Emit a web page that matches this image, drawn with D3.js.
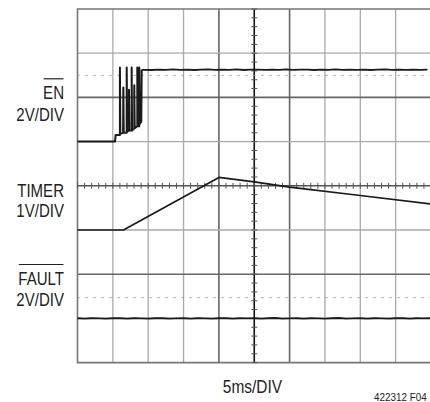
<!DOCTYPE html>
<html lang="en">
<head>
<meta charset="utf-8">
<title>EN / TIMER / FAULT scope capture</title>
<script src="https://d3js.org/d3.v7.min.js"></script>
<style>
  body { margin: 0; background: #fff; }
  svg { display: block; }
  .lbl { font-family: "Liberation Sans", Arial, sans-serif; fill: #222; }
</style>
</head>
<body>
<script>
// scope settings
var timePerDiv = 5;     // ms
var xDivs = 10, yDivs = 8;

// EN trace (2V/DIV, ground 3 divs from top) - start-up burst, then high
var enStart = [[0, 0], [5.3, 0], [5.4, 0.3], [6.0, 0.3], [6.0, 3.35], [6.06, 0.35], [6.45, 0.4],
  [6.48, 2.45], [6.54, 0.4], [6.96, 0.4], [6.96, 3.35], [7.02, 0.45], [7.28, 0.5], [7.28, 2.35],
  [7.34, 0.5], [7.66, 0.5], [7.66, 3.35], [7.72, 0.5], [8.03, 0.6], [8.03, 2.55], [8.09, 0.6],
  [8.46, 0.7], [8.46, 3.35], [8.52, 0.7], [8.74, 0.7], [8.74, 3.35], [8.8, 0.8], [9.02, 0.9],
  [9.08, 3.25]];
var enHighT = d3.range(9.5, 50.5, 1);
var enHigh = [3.25, 3.24, 3.26, 3.25, 3.27, 3.25, 3.26, 3.24, 3.26, 3.27, 3.25, 3.26, 3.25, 3.27,
  3.24, 3.26, 3.26, 3.25, 3.26, 3.25, 3.27, 3.25, 3.26, 3.26, 3.24, 3.26, 3.25, 3.27, 3.25, 3.26,
  3.25, 3.26, 3.24, 3.26, 3.27, 3.25, 3.26, 3.25, 3.26, 3.25, 3.26];
var enLevel = 3.0;

// TIMER trace (1V/DIV, ground 5 divs from top)
var timerT = [0, 6.5, 20, 25, 30, 40, 50];
var timerV = [0, 0, 1.19, 1.09, 0.97, 0.78, 0.59];

// FAULT trace (2V/DIV, reference 7 divs from top)
var faultT = d3.range(0, 51, 1);
var faultV = [0.01, -0.01, 0.01, 0, -0.01, 0.01, 0.01, -0.01, 0.01, 0, -0.01, 0.01, 0.01, -0.01,
  0, 0.01, -0.01, 0.01, 0, -0.01, 0.01, 0.01, -0.01, 0.01, 0, 0.01, -0.01, 0.01, 0.02, -0.01, 0,
  0.01, -0.01, 0.01, 0, -0.01, 0.01, 0.02, -0.01, 0, 0.01, -0.01, 0.01, 0, -0.01, 0.01, 0.01,
  -0.01, 0.01, 0, 0.01];
var faultLevel = 0.94;

var channels = [
  { name: "EN", scale: "2V/DIV", gnd: 3, vdiv: 2 },
  { name: "TIMER", scale: "1V/DIV", gnd: 5, vdiv: 1 },
  { name: "FAULT", scale: "2V/DIV", gnd: 7, vdiv: 2 }
];

var w = 430, h = 402;
var svg = d3.select("body").append("svg").attr("width", w).attr("height", h);

var x = d3.scaleLinear().domain([0, xDivs * timePerDiv]).range([77.5, 431]);
var gy = d3.scaleLinear().domain([0, yDivs]).range([9, 362.6]);
function yOf(ch, v) { return gy(ch.gnd - v / ch.vdiv); }

// grid
var g = svg.append("g");
d3.range(1, xDivs).forEach(function(i) {
  var xx = x(i * timePerDiv);
  var strong = (i === 4 || i === 6);
  g.append("line").attr("x1", xx).attr("x2", xx).attr("y1", gy(0)).attr("y2", gy(yDivs))
    .attr("stroke", i === 5 ? "#111" : (strong ? "#666" : "#aaa"))
    .attr("stroke-width", i === 5 ? 1.6 : (strong ? 1.6 : 1.3));
});
d3.range(1, yDivs).forEach(function(j) {
  var yy = gy(j);
  var strong = (j === 2 || j === 6);
  g.append("line").attr("x1", x(0)).attr("x2", w).attr("y1", yy).attr("y2", yy)
    .attr("stroke", j === 4 ? "#555" : (strong ? "#666" : "#aaa"))
    .attr("stroke-width", j === 4 ? 1.4 : (strong ? 1.6 : 1.3));
});
// frame
g.append("path")
  .attr("d", "M" + w + "," + gy(0) + "H" + x(0) + "V" + gy(yDivs) + "H" + w)
  .attr("fill", "none").attr("stroke", "#777").attr("stroke-width", 1.6);

// center graticule ticks
var cx = x(25), cy = gy(4);
d3.range(0, xDivs * 5 + 1).forEach(function(k) {
  var xx = x(k * timePerDiv / 5);
  g.append("line").attr("x1", xx).attr("x2", xx).attr("y1", cy - 3).attr("y2", cy + 3)
    .attr("stroke", "#555").attr("stroke-width", 1);
});
d3.range(0, yDivs * 5 + 1).forEach(function(k) {
  var yy = gy(k / 5);
  g.append("line").attr("x1", cx - 3).attr("x2", cx + 3).attr("y1", yy).attr("y2", yy)
    .attr("stroke", "#555").attr("stroke-width", 1);
});

// dotted threshold levels
[[channels[0], enLevel], [channels[2], faultLevel]].forEach(function(d) {
  var yy = yOf(d[0], d[1]);
  g.append("line").attr("x1", x(0)).attr("x2", w).attr("y1", yy).attr("y2", yy)
    .attr("stroke", "#999").attr("stroke-width", 1).attr("stroke-dasharray", "2,6");
});

// traces
function trace(ch, pts, width) {
  var line = d3.line().x(function(d) { return x(d[0]); }).y(function(d) { return yOf(ch, d[1]); });
  svg.append("path").datum(pts).attr("d", line)
    .attr("fill", "none").attr("stroke", "#1a1a1a").attr("stroke-width", width)
    .attr("stroke-linejoin", "round");
}
trace(channels[0], enStart, 2);
trace(channels[0], [enStart[enStart.length - 1]].concat(enHighT.map(function(t, i) { return [t, enHigh[i]]; })), 1.8);
trace(channels[1], timerT.map(function(t, i) { return [t, timerV[i]]; }), 1.7);
trace(channels[2], faultT.map(function(t, i) { return [t, faultV[i]]; }), 1.9);

// condensed text: normal sans squeezed horizontally
function label(xx, yy, size, anchor, str) {
  return svg.append("text").attr("class", "lbl")
    .attr("transform", "translate(" + xx + "," + yy + ") scale(0.86,1)")
    .attr("text-anchor", anchor).attr("font-size", size).text(str);
}

// channel labels
var labelPos = [[99.3, 121], [196.5, 216.5], [285, 305.7]];
channels.forEach(function(ch, i) {
  var t = label(64, labelPos[i][0], 17.5, "end", ch.name);
  label(64, labelPos[i][1], 17.5, "end", ch.scale);
  if (ch.name !== "TIMER") {
    var bw = t.node().getComputedTextLength() * 0.86;
    svg.append("line").attr("x1", 64 - bw + 0.5).attr("x2", 64 - 0.5)
      .attr("y1", labelPos[i][0] - 20.5).attr("y2", labelPos[i][0] - 20.5)
      .attr("stroke", "#222").attr("stroke-width", 1.2);
  }
});

label(252.5, 393, 18, "middle", "5ms/DIV");
label(426.7, 400.7, 11.5, "end", "422312 F04");
</script>
</body>
</html>
